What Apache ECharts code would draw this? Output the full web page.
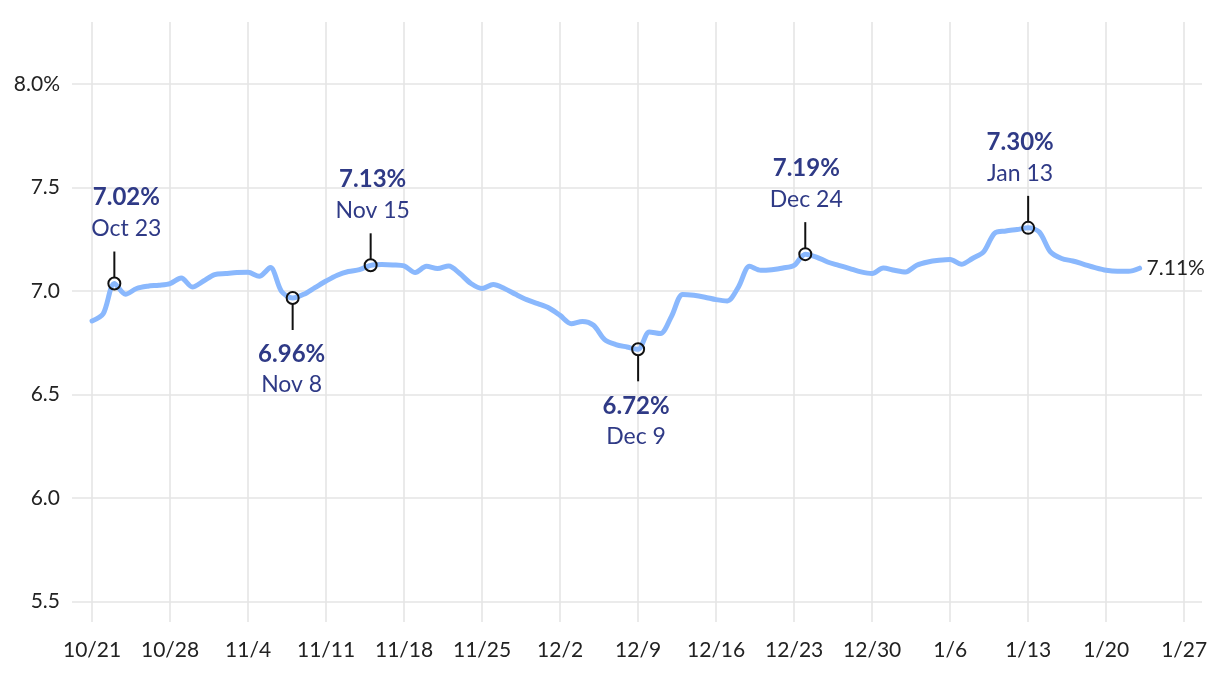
<!DOCTYPE html>
<html><head><meta charset="utf-8">
<script src="https://cdn.jsdelivr.net/npm/echarts@6/dist/echarts.min.js"></script>
<style>html,body{margin:0;padding:0;background:#fff}#c{width:1220px;height:674px}</style>
</head><body><div id="c"></div>
<script>
// Days counted from 10/21 (day 0) to 1/23 (day 94)
const rates = [
  6.855, 6.89, 7.036, 6.984, 7.012, 7.023, 7.028, 7.036, 7.063, 7.019,
  7.048, 7.079, 7.084, 7.089, 7.09, 7.071, 7.113, 6.998, 6.966, 6.984,
  7.016, 7.048, 7.076, 7.094, 7.103, 7.124, 7.128, 7.126, 7.121, 7.089,
  7.119, 7.108, 7.121, 7.084, 7.036, 7.012, 7.031, 7.012, 6.984, 6.958,
  6.939, 6.918, 6.882, 6.842, 6.853, 6.834, 6.765, 6.741, 6.729, 6.718,
  6.802, 6.794, 6.878, 6.983, 6.979, 6.97, 6.958, 6.952, 7.019, 7.119,
  7.1, 7.103, 7.111, 7.124, 7.178, 7.164, 7.14, 7.124, 7.108, 7.092,
  7.084, 7.111, 7.1, 7.092, 7.124, 7.14, 7.148, 7.152, 7.129, 7.157,
  7.189, 7.28, 7.29, 7.297, 7.305, 7.285, 7.189, 7.157, 7.145, 7.129,
  7.113, 7.1, 7.095, 7.095, 7.11
];
const tickDays = [0, 7, 14, 21, 28, 35, 42, 49, 56, 63, 70, 77, 84, 91, 98];
const tickLabels = ['10/21','10/28','11/4','11/11','11/18','11/25','12/2','12/9','12/16','12/23','12/30','1/6','1/13','1/20','1/27'];
const yTicks = [5.5, 6.0, 6.5, 7.0, 7.5, 8.0];
const yTickLabels = ['5.5', '6.0', '6.5', '7.0', '7.5', '8.0%'];
const annDays = [2, 18, 25, 49, 64, 84];
const annLabels = ['7.02%', '6.96%', '7.13%', '6.72%', '7.19%', '7.30%'];
const annDates = ['Oct 23', 'Nov 8', 'Nov 15', 'Dec 9', 'Dec 24', 'Jan 13'];
const annSide = ['above', 'below', 'above', 'below', 'above', 'above'];
const endLabelText = '7.11%';

// style-only nudges for annotation text
const annNudge = [12, -1, 2, -2, 1, -8];
const FONT = 'Lato, "Source Sans Pro", sans-serif';
const annColor = '#2f3a86';

const chart = echarts.init(document.getElementById('c'), null, {renderer: 'canvas'});
chart.setOption({
  animation: false,
  backgroundColor: '#fff',
  grid: {left: 72, right: 18, top: 22, bottom: 52},
  xAxis: {
    type: 'value', min: -1.8, max: 99.6,
    axisLine: {show: false},
    axisTick: {show: false, customValues: tickDays},
    axisLabel: {
      customValues: tickDays, margin: 18, color: '#222', fontSize: 21, fontFamily: FONT,
      formatter: v => tickLabels[tickDays.indexOf(v)]
    },
    splitLine: {show: true, lineStyle: {color: '#e5e5e5', width: 1.6}}
  },
  yAxis: {
    type: 'value', min: 5.4, max: 8.3,
    axisLine: {show: false},
    axisTick: {show: false, customValues: yTicks},
    axisLabel: {
      customValues: yTicks, margin: 12, color: '#222', fontSize: 21, fontFamily: FONT,
      formatter: v => { const i = yTicks.findIndex(t => Math.abs(t - v) < 1e-6); return i >= 0 ? yTickLabels[i] : ''; }
    },
    splitLine: {show: true, lineStyle: {color: '#e5e5e5', width: 1.6}}
  },
  series: [
    {
      type: 'line',
      data: rates.map((v, i) => [i, v]),
      showSymbol: false,
      smooth: 0.3,
      lineStyle: {color: '#8ab8fd', width: 5, cap: 'round', join: 'round'},
      endLabel: {show: true, formatter: endLabelText, color: '#222', fontSize: 21, fontFamily: FONT, distance: 7},
      z: 2
    },
    {
      type: 'custom',
      clip: false,
      z: 10,
      data: annDays.map((d, i) => [d, rates[d], i]),
      renderItem: (params, api) => {
        const i = api.value(2);
        const p = api.coord([api.value(0), api.value(1)]);
        const up = annSide[i] === 'above';
        const s = up ? -1 : 1;
        const x = p[0], y = p[1];
        const tx = x + annNudge[i];
        const end = y + s * 32;
        return {
          type: 'group',
          children: [
            {type: 'line', shape: {x1: x, y1: y + s * 6, x2: x, y2: end}, style: {stroke: '#111', lineWidth: 2}},
            {type: 'circle', shape: {cx: x, cy: y, r: 6}, style: {fill: 'rgba(0,0,0,0)', stroke: '#111', lineWidth: 2}},
            {type: 'text', style: {text: annLabels[i], x: tx, y: up ? end - 54 : end + 24.5, align: 'center', verticalAlign: 'middle', font: 'bold 24px ' + FONT, fill: annColor}},
            {type: 'text', style: {text: annDates[i], x: tx, y: up ? end - 22.5 : end + 55, align: 'center', verticalAlign: 'middle', font: '23px ' + FONT, fill: annColor}}
          ]
        };
      }
    }
  ]
});
</script>
</body></html>
